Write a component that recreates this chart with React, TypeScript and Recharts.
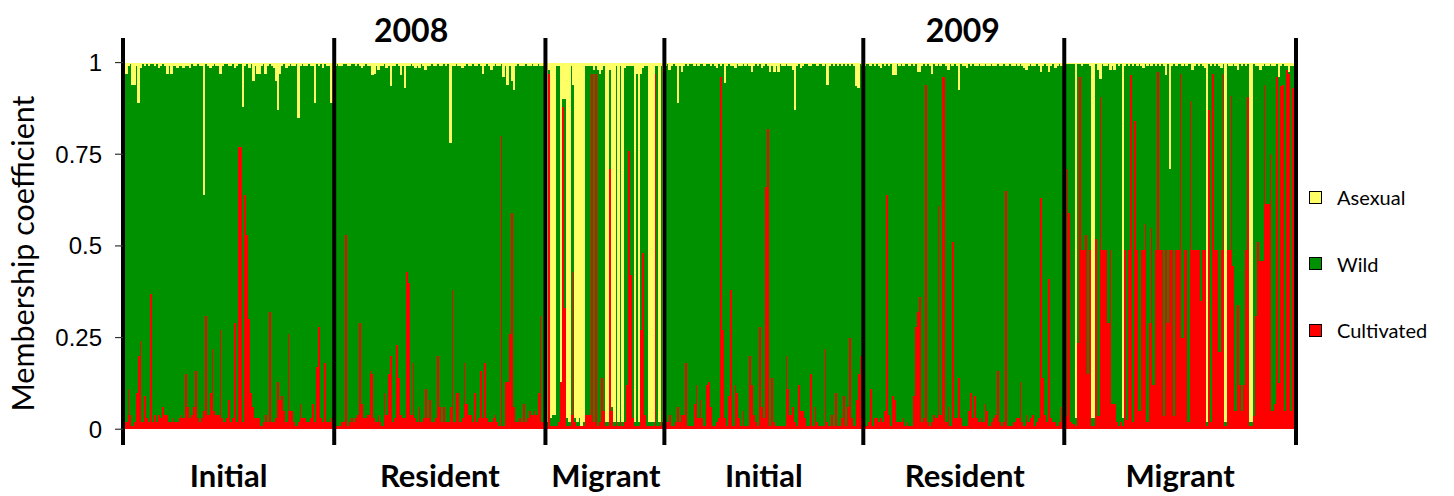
import React from 'react';
import { BarChart, Bar, XAxis, YAxis, ReferenceLine, Legend } from 'recharts';

// Membership coefficients in percent (0-100)
const groupNames = ['Initial', 'Resident', 'Migrant', 'Initial', 'Resident', 'Migrant'];
const yearTitles = ['2008', '2009'];
const yearTitleAnchors = [140, 409];
const yTicks = [0, 25, 50, 75, 100];
const legendOrder = ['Asexual', 'Wild', 'Cultivated'];

const COLORS = { asexual: '#FFFF66', wild: '#009100', cultivated: '#FF0000' };

const initial2008Cult = [3,2,11,4,1,2,10,20,24,2,
 9,3,2,37,2,4,2,4,3,6,
 4,4,2,2,3,2,2,3,4,3,
 15,6,3,4,6,16,3,2,3,5,
 31,4,10,22,5,4,4,27,3,2,
 3,8,2,3,29,2,77,77,2,64,
 53,30,10,6,3,3,3,1,2,4,
 2,32,2,2,3,13,8,9,5,2,
 26,5,5,2,1,2,7,3,3,2,
 2,3,7,2,17,28,3,2,18,2,
 2,3,3];
const initial2008Asex = [3,3,1,0.5,6,6,1,11,1.5,0.5,
 1,0.5,1,0.5,0.5,1,0.5,1.5,1,0.5,
 1,3,1,3,1,1,1.5,1,1,1.5,
 1,1,1.5,0.5,1,1,0.5,1,1,36,
 0.5,1,1.5,1,0.5,1,1,3,1,0.5,
 0.5,1,1,0.5,1.5,1,0.5,0.5,12,1,
 0.5,1.5,0.5,5,1,3,3,1,0.5,3,
 1,0.5,1,1.5,5,13,3,1,0.5,1.5,
 1,0.5,1,1,0.5,15,1,0.5,1,1,
 0.5,1,1,11,0.5,1,0.5,1.5,0.5,1,
 1,11,1];

const resident2008Cult = [2,1,1,2,2,53,1,2,3,2,
 3,4,29,7,3,3,4,16,15,3,
 2,4,2,1,10,4,15,20,2,3,
 23,14,4,3,3,43,40,4,18,3,
 2,6,2,3,11,3,8,2,2,3,
 20,6,2,6,2,2,6,38,2,10,
 10,2,3,18,7,4,4,2,10,2,
 3,16,3,18,3,2,2,3,4,2,
 1,80,1,13,13,26,59,6,2,2,
 3,2,7,2,3,5,4,5,4,10,
 31,2,16];
const resident2008Asex = [1,0.5,1,1,0.5,0.5,1,1,0.5,0.5,
 1,0.5,1,1.5,1,0.5,1,1,3.5,3,
 1,2,1,1,0.5,1.5,1,6.5,1,1,
 0.5,1,3.5,1,7,1,1,0.5,1,1.5,
 1,1.5,0.5,1,2,1,1,0.5,1,1,
 0.5,1,1,0.5,1,0.5,22,1,1,0.5,
 1,1,1.5,1,0.5,1,1,0.5,1,1,
 0.5,1,3,1,0.5,1,2,1,0.5,1,
 1,0.5,4,1,6,1,5,7.5,1,0.5,
 1,1,1,0.5,1,1,0.5,1,1,0.5,
 1,1,0.5];

const migrant2008Cult = [1,97,1,1,1,1,2,13,88,33,
 1,1,4,43,2,1,1,1,1,4,
 4,4,97,2,97,1,2,14,5,1,
 1,71,5,1,2,1,2,1,2,12,
 76,42,3,1,1,1,27,48,4,1,
 1,1,1,97,1,1,2,1];
const migrant2008Asex = [98,2,97,96,96,1,1,87,10,10,
 97,98,1,6,97,98,97,99,98,1,
 1,1,1,2,1,2,3,2,1,98,
 98,2,94,98,1,98,1,98,1.5,1,
 1,1,1,98,3,98,3,1.5,1,1,
 98,98,98,1,1,98,1,98];

const initial2009Cult = [49,2,4,1,1,2,6,2,4,4,
 18,1,1,1,7,12,3,8,3,1,
 12,13,6,1,1,2,3,96,27,3,
 1,9,38,1,12,10,3,1,5,1,
 1,20,12,4,2,1,28,6,3,66,
 82,1,14,2,1,1,1,1,1,20,
 11,4,6,2,1,12,5,5,3,1,
 1,15,1,6,2,1,1,1,22,2,
 1,4,1,10,1,1,3,9,1,6,
 25,3,1,8,15,20,3];
const initial2009Asex = [1,0.5,2,1,0.5,1,11,1,2.7,1,
 0.5,1,0.5,0.5,1,0.5,1,0.5,0.5,1,
 0.5,0.5,1,0.5,1,1.5,0.5,1,0.5,5.5,
 1,0.5,1,1,1.5,0.5,1,1,0.5,1,
 0.5,1,2.5,1,0.5,1,0.5,1.5,1,0.5,
 1,2.5,1,2.5,1,2.5,0.5,1,1,0.5,
 1,1,2,13,1,0.5,1.5,1,0.5,0.5,
 1,1,0.5,0.5,1,0.5,0.5,1,0.5,6,
 1,0.5,1,0.5,1,0.5,1,0.5,1,0.5,
 1,0.5,1,6.5,7,0.5,1];

const resident2009Cult = [2,1,2,11,1,3,3,2,3,2,
 5,64,4,1,9,8,2,2,2,3,
 1,2,1,1,9,28,32,36,2,3,
 94,2,1,2,4,3,61,4,96,96,
 2,6,1,51,3,3,14,3,1,1,
 1,5,10,3,9,3,2,3,2,7,
 5,1,2,3,4,16,2,1,2,65,
 1,1,1,2,3,3,13,2,1,4,
 2,3,4,1,2,3,63,14,4,2,
 41,3,2,2,1,2,6,3];
const resident2009Asex = [1,0.5,0.5,1,0.5,1,0.5,1,1.5,0.5,
 1,0.5,1,0.5,3.5,3.5,0.5,1,0.5,1,
 0.5,0.5,1,0.5,1,0.5,2.5,2.5,1,0.5,
 1,0.5,1,3,0.5,1,0.5,1,0.5,0.5,
 1,2,0.5,1,0.5,1,7.5,0.5,1,1,
 1.5,0.5,1,0.5,1,1,0.5,1,1,0.5,
 1,1,0.5,1,1,0.5,1,1,0.5,1,
 1,0.5,1,1,0.5,1,0.5,1,1.5,2,
 1,0.5,1,1,0.5,1,2.5,1,0.5,1,
 2.5,1,0.5,1.5,1,0.5,1,0.5];

const migrant2009Cult = [3.5,71,59,2,1.5,1,23.5,96,49,49,
 53,15,49,1,1,52,3.5,90.5,49,49,
 49,29,49,7,7,2,1,2,1,49,
 2.5,49,96.5,2,84,49,5,49,49,56,
 2,29,55,12,49,97.5,49,49,3.5,49,
 29,49,49,3.5,49,49,97,25,49,49,
 2,89.5,49,49,49,49,35,49,49,1,
 87,2,97,49,49,21,49,97,1,49,
 49,91,44.5,5,34,12,5,12,49,90.5,
 1,1,3.5,31,51,46,46,94,61.5,61.5,
 75,5,7,96,12.5,93.5,94,5,98,97,
 5,93,93];
const migrant2009Asex = [0.5,0.5,0.5,0.5,0.5,97,0.5,0.5,1,0.5,
 0.5,0.5,1,97,97,0.5,2,4.5,0.5,1,
 1,0.5,2,1,2,0.5,1,0.5,97,1,
 0.5,1,0.5,1,0.5,1,0.5,1,1.5,0.5,
 1,0.5,1,0.5,1,0.5,1,0.5,1,3.5,
 0.5,29,1,0.5,1,0.5,0.5,1,0.5,1,
 0.5,0.5,2,1,0.5,1,0.5,1,1.5,98,
 0.5,1,0.5,1,0.5,1,1.5,0.5,98,0.5,
 1,1,0.5,1,2,0.5,1,0.5,1,0.5,
 98,98,0.5,1,1,2,1,0.5,1,1,
 0.5,1,1,0.5,4,1,0.5,1,1,2.5,
 1,1,1];

const groups = [
  { cult: initial2008Cult, asex: initial2008Asex },
  { cult: resident2008Cult, asex: resident2008Asex },
  { cult: migrant2008Cult, asex: migrant2008Asex },
  { cult: initial2009Cult, asex: initial2009Asex },
  { cult: resident2009Cult, asex: resident2009Asex },
  { cult: migrant2009Cult, asex: migrant2009Asex },
];

type Row = { id: number; cultivated: number; wild: number; asexual: number };
const data: Row[] = [];
const groupStarts: number[] = [];
const groupCenters: number[] = [];
groups.forEach((g) => {
  groupStarts.push(data.length);
  groupCenters.push(data.length + Math.floor(g.cult.length / 2));
  g.cult.forEach((c, i) => {
    const a = g.asex[i];
    data.push({ id: data.length, cultivated: c, asexual: a, wild: Math.max(0, 100 - c - a) });
  });
});
const lastId = data.length - 1;

const bottomLabel = (v: number) => {
  const k = groupCenters.indexOf(v);
  return k >= 0 ? groupNames[k] : '';
};
const topLabel = (v: number) => {
  const k = yearTitleAnchors.indexOf(v);
  return k >= 0 ? yearTitles[k] : '';
};

// Seamless bar: crisp edges, slightly widened so adjacent bars leave no hairline gaps
const SeamlessBar = (props: any) => {
  const { x, y, width, height, fill } = props;
  if (!height || height <= 0) return null;
  return (
    <rect
      x={x}
      y={y}
      width={width + 0.5}
      height={height}
      fill={fill}
      shapeRendering="crispEdges"
    />
  );
};

const LegendContent = (props: any) => {
  const items = [...(props.payload || [])].sort(
    (p: any, q: any) => legendOrder.indexOf(p.value) - legendOrder.indexOf(q.value)
  );
  return (
    <div style={{ width: 140 }}>
      {items.map((it: any) => (
        <div key={it.value} style={{ height: 66.5, display: 'flex', alignItems: 'center' }}>
          <div style={{ width: 13, height: 13, boxSizing: 'border-box', border: '1.5px solid #000', background: it.color, marginLeft: 13 }} />
          <span style={{ marginLeft: 15, fontFamily: 'Lato, sans-serif', fontSize: 20, color: '#000' }}>{it.value}</span>
        </div>
      ))}
    </div>
  );
};

const YLabel = (props: any) => {
  const vb = props.viewBox || { x: 0, y: 0, width: 0, height: 0 };
  const cx = vb.x + 21;
  const cy = vb.y + vb.height / 2 + 12;
  return (
    <text
      x={cx}
      y={cy}
      transform={`rotate(-90 ${cx} ${cy})`}
      textAnchor="middle"
      dominantBaseline="central"
      fill="#000"
      style={{ fontFamily: 'Lato, sans-serif', fontSize: 30.5 }}
    >
      Membership coefficient
    </text>
  );
};

export default function App() {
  return (
    <div style={{ position: 'absolute', left: 0, top: 0, width: 1454, height: 496, background: '#fff' }}>
      <BarChart
        width={1454}
        height={496}
        data={data}
        margin={{ top: 0, right: 18, bottom: 0, left: 1 }}
        barCategoryGap={0}
        barGap={0}
      >
        <XAxis
          dataKey="id"
          type="category"
          ticks={groupCenters}
          interval={0}
          tickFormatter={bottomLabel}
          axisLine={false}
          tickLine={false}
          tickSize={0}
          tickMargin={20}
          height={51}
          tick={{ fill: '#000', fontFamily: 'Lato, sans-serif', fontWeight: 700, fontSize: 31 }}
        />
        <XAxis
          xAxisId="top"
          orientation="top"
          dataKey="id"
          type="category"
          ticks={yearTitleAnchors}
          interval={0}
          tickFormatter={topLabel}
          axisLine={false}
          tickLine={false}
          tickSize={0}
          tickMargin={-4}
          height={38}
          tick={{ fill: '#000', fontFamily: 'Lato, sans-serif', fontWeight: 700, fontSize: 32 }}
        />
        <YAxis
          type="number"
          domain={[-4.3, 106.7]}
          ticks={yTicks}
          allowDataOverflow
          width={122}
          tickFormatter={(v: number) => String(v / 100)}
          axisLine={{ stroke: '#000', strokeWidth: 4 }}
          tickLine={{ stroke: '#333', strokeWidth: 1.2 }}
          tickSize={8}
          tickMargin={13}
          tick={{ fill: '#000', fontFamily: '"Liberation Sans", Arial, sans-serif', fontSize: 24 }}
          label={{ position: 'insideLeft', content: <YLabel /> }}
        />
        <Legend
          layout="vertical"
          align="right"
          verticalAlign="middle"
          content={<LegendContent />}
          wrapperStyle={{ top: 164, width: 140 }}
        />
        <Bar dataKey="cultivated" name="Cultivated" stackId="s" fill={COLORS.cultivated} shape={<SeamlessBar />} isAnimationActive={false} />
        <Bar dataKey="wild" name="Wild" stackId="s" fill={COLORS.wild} shape={<SeamlessBar />} isAnimationActive={false} />
        <Bar dataKey="asexual" name="Asexual" stackId="s" fill={COLORS.asexual} shape={<SeamlessBar />} isAnimationActive={false} />
        {groupStarts.slice(1).map((s) => (
          <ReferenceLine key={s} x={s} position="start" stroke="#000" strokeWidth={4} />
        ))}
        <ReferenceLine x={lastId} position="end" stroke="#000" strokeWidth={4} />
      </BarChart>
    </div>
  );
}
